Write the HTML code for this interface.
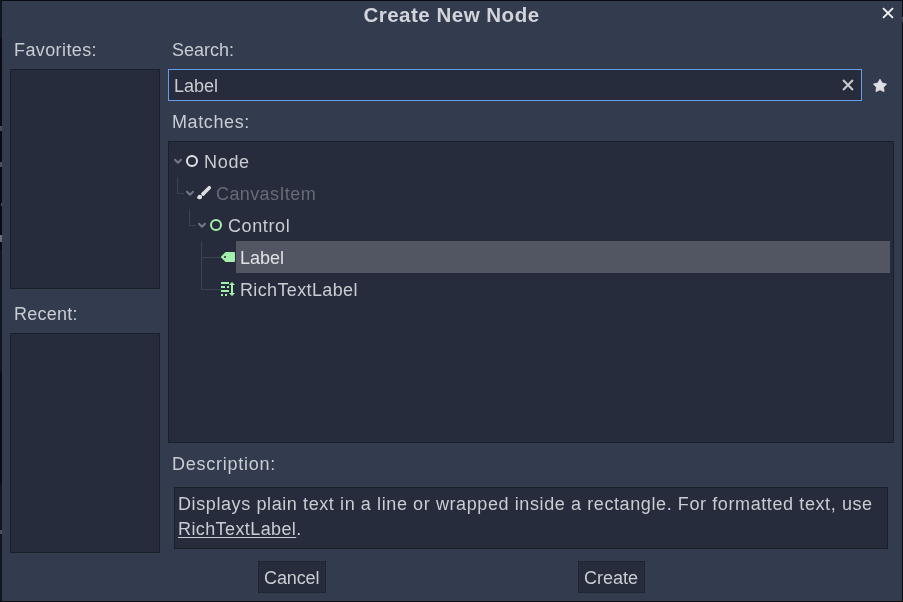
<!DOCTYPE html>
<html>
<head>
<meta charset="utf-8">
<title>Create New Node</title>
<style>
html,body{margin:0;padding:0;}
body{width:903px;height:602px;overflow:hidden;background:#0a0c11;font-family:"Liberation Sans",sans-serif;position:relative;}
#dlg{position:absolute;left:2px;top:1px;width:900px;height:599.5px;background:#333b4f;}
.t{position:absolute;will-change:transform;white-space:nowrap;color:#c9ccd1;font-size:18px;line-height:22px;}
.panel{position:absolute;background:#262c3b;border:1px solid #1b1f2a;box-sizing:border-box;}
#title{position:absolute;will-change:transform;left:0;width:903px;top:4px;text-align:center;color:#d2d4d9;font-weight:bold;font-size:19.4px;line-height:22px;letter-spacing:.45px;transform:scaleX(1.06);transform-origin:451.5px 0;}
.btn{position:absolute;background:#262c3b;border:1px dotted #1a1e28;box-sizing:border-box;height:32px;top:561px;}
svg{position:absolute;overflow:visible;}
.ln{position:absolute;background:#3d4250;}
</style>
</head>
<body>
<!-- dimmed editor slivers showing at window edges -->
<div style="position:absolute;left:0;top:0;width:2px;height:38px;background:#10141c"></div>
<div style="position:absolute;left:0;top:250px;width:2px;height:122px;background:#11151d"></div>
<div style="position:absolute;left:0;top:484px;width:2px;height:117px;background:#11151e"></div>
<div style="position:absolute;left:0;top:126px;width:2px;height:5px;background:#4a4e58"></div>
<div style="position:absolute;left:0;top:162px;width:2px;height:5px;background:#4a4e58"></div>
<div style="position:absolute;left:1px;top:203px;width:1px;height:3px;background:#4a4e58"></div>
<div style="position:absolute;left:0;top:235px;width:2px;height:7px;background:#6a6e78"></div>
<div style="position:absolute;left:0;top:530px;width:2px;height:4px;background:#4a4e58"></div>
<div style="position:absolute;left:902px;top:17px;width:1px;height:5px;background:#3f444f"></div>
<div id="dlg"></div>
<div id="title">Create New Node</div>

<!-- close X -->
<svg style="left:880px;top:5px" width="16" height="16" viewBox="0 0 16 16"><path d="M3.05 3.05L12.95 12.95M12.95 3.05L3.05 12.95" stroke="#f3f4f6" stroke-width="1.9" fill="none"/></svg>

<div class="t" style="left:14px;top:39px;letter-spacing:.4px">Favorites:</div>
<div class="panel" style="left:10px;top:69px;width:150px;height:220px"></div>
<div class="t" style="left:14px;top:303px;letter-spacing:.25px">Recent:</div>
<div class="panel" style="left:10px;top:333px;width:150px;height:220px"></div>

<div class="t" style="left:172px;top:39px">Search:</div>
<div class="panel" style="left:168px;top:69px;width:694px;height:32px;border-color:#699ce8"></div>
<div class="t" style="left:174px;top:75px">Label</div>
<!-- clear X -->
<svg style="left:840px;top:77px" width="16" height="16" viewBox="0 0 16 16"><path d="M3.05 3.05L12.95 12.95M12.95 3.05L3.05 12.95" stroke="#c9cbd0" stroke-width="2" fill="none"/></svg>
<!-- star -->
<svg style="left:872px;top:77px" width="16" height="16" viewBox="0 0 16 16"><path d="M8.00 2.15L10.20 6.02L14.56 6.92L11.57 10.21L12.06 14.63L8.00 12.80L3.94 14.63L4.43 10.21L1.44 6.92L5.80 6.02Z" fill="#dfe0e3" stroke="#dfe0e3" stroke-width=".8" stroke-linejoin="round"/></svg>

<div class="t" style="left:172px;top:111px;letter-spacing:.6px">Matches:</div>
<div class="panel" style="left:168px;top:141px;width:726px;height:302px"></div>

<!-- tree -->
<div style="position:absolute;left:236px;top:241px;width:654px;height:32px;background:#515662"></div>

<!-- relationship lines -->
<div class="ln" style="left:177px;top:177px;width:1px;height:17px"></div>
<div class="ln" style="left:177px;top:193px;width:7px;height:1px"></div>
<div class="ln" style="left:189px;top:209px;width:1px;height:17px"></div>
<div class="ln" style="left:189px;top:225px;width:7px;height:1px"></div>
<div class="ln" style="left:201px;top:241px;width:1px;height:49px"></div>
<div class="ln" style="left:201px;top:257px;width:20px;height:1px"></div>
<div class="ln" style="left:201px;top:289px;width:20px;height:1px"></div>

<!-- chevrons -->
<svg style="left:174px;top:157px" width="8" height="8" viewBox="0 0 8 8"><path d="M1 2.8L4 5.8L7 2.8" stroke="#737888" stroke-width="2" fill="none" stroke-linecap="round" stroke-linejoin="round"/></svg>
<svg style="left:186px;top:189px" width="8" height="8" viewBox="0 0 8 8"><path d="M1 2.8L4 5.8L7 2.8" stroke="#737888" stroke-width="2" fill="none" stroke-linecap="round" stroke-linejoin="round"/></svg>
<svg style="left:198px;top:221px" width="8" height="8" viewBox="0 0 8 8"><path d="M1 2.8L4 5.8L7 2.8" stroke="#737888" stroke-width="2" fill="none" stroke-linecap="round" stroke-linejoin="round"/></svg>

<!-- Node icon -->
<svg style="left:184px;top:153px" width="16" height="16" viewBox="0 0 16 16"><circle cx="8" cy="8" r="5" stroke="#e1e3e8" stroke-width="2" fill="none"/></svg>
<!-- CanvasItem icon -->
<svg style="left:196px;top:185px" width="16" height="16" viewBox="0 0 16 16"><path d="M13.3 2.7L7 9" stroke="#e0e0e0" stroke-width="3.5" stroke-linecap="round" fill="none"/><path d="M8 8L6.3 9.7" stroke="#e0e0e0" stroke-width="3.5" stroke-linecap="butt" fill="none"/><path d="M3.7 9.7a2.3 2.3 0 1 1 -.4 4.55c-1 0-1.9-.9-2.5-1.5 .5-.1.7-.5.7-.9a2.3 2.3 0 0 1 2.2-2.15z" fill="#e0e0e0"/></svg>
<!-- Control icon -->
<svg style="left:208px;top:217px" width="16" height="16" viewBox="0 0 16 16"><circle cx="8" cy="8" r="5" stroke="#a5efac" stroke-width="2" fill="none"/></svg>
<!-- Label icon -->
<svg style="left:220px;top:249px" width="16" height="16" viewBox="0 0 16 16"><path d="m6 3a1.0001 1.0001 0 0 0 -.70703.29297l-4 4a1.0001 1.0001 0 0 0 0 1.4141l4 4a1.0001 1.0001 0 0 0 .70703.29297h8a1.0001 1.0001 0 0 0 1-1v-8a1.0001 1.0001 0 0 0 -1-1zm-1 4a1 1 0 0 1 1 1 1 1 0 0 1 -1 1 1 1 0 0 1 -1-1 1 1 0 0 1 1-1z" fill="#a5efac"/></svg>
<!-- RichTextLabel icon -->
<svg style="left:220px;top:281px" width="16" height="16" viewBox="0 0 16 16"><path d="m1 1v2h8v-2zm11 0-3 3h2v8h-2l3 3 3-3h-2v-8h2zm-11 4v2h4v-2zm6 0v2h2v-2zm-6 4v2h8v-2zm0 4v2h2v-2zm4 0v2h2v-2z" fill="#a5efac"/></svg>

<div class="t" style="left:204px;top:151px;letter-spacing:.7px">Node</div>
<div class="t" style="left:216px;top:183px;color:#676b76;letter-spacing:.4px">CanvasItem</div>
<div class="t" style="left:228px;top:215px;letter-spacing:.6px">Control</div>
<div class="t" style="left:240px;top:247px;color:#e0e2e5">Label</div>
<div class="t" style="left:240px;top:279px;letter-spacing:.36px">RichTextLabel</div>

<div class="t" style="left:172px;top:453px;letter-spacing:.75px">Description:</div>
<div class="panel" style="left:174px;top:487px;width:714px;height:62px"></div>
<div class="t" style="left:178px;top:492px;line-height:25px;letter-spacing:.6px">Displays plain text in a line or wrapped inside a rectangle. For formatted text, use</div>
<div class="t" style="left:178px;top:517px;line-height:25px;letter-spacing:.4px"><span style="text-decoration:underline;text-underline-offset:2px">RichTextLabel</span>.</div>

<div class="btn" style="left:258px;width:68px"></div>
<div class="t" style="left:264px;top:567px;letter-spacing:-.1px">Cancel</div>
<div class="btn" style="left:578px;width:67px"></div>
<div class="t" style="left:584.3px;top:567px;letter-spacing:0px">Create</div>
</body>
</html>
